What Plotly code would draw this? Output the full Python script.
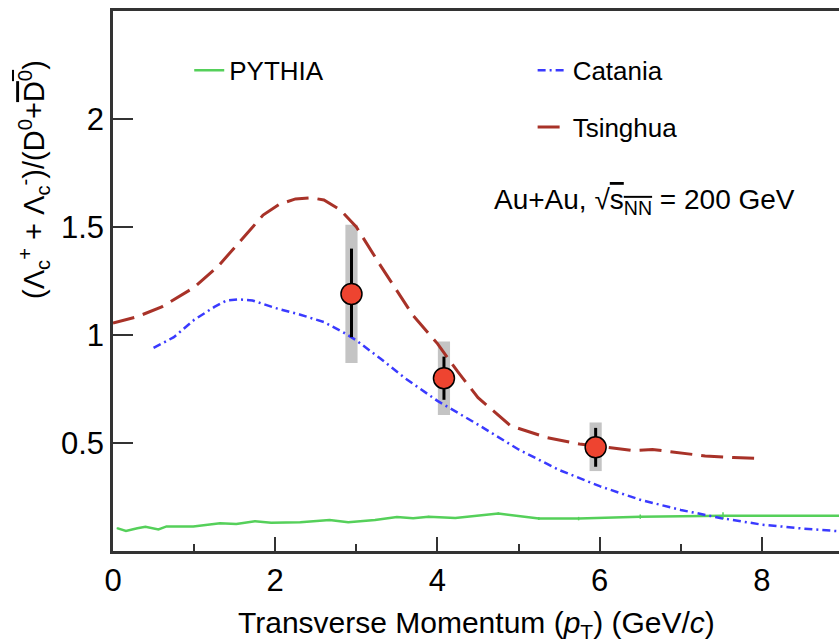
import plotly.graph_objects as go

# ---------------- data ----------------
pythia_x = [0.05, 0.16, 0.30, 0.40, 0.56, 0.66, 0.99, 1.32, 1.52, 1.75, 1.95, 2.31, 2.67,
            2.90, 3.23, 3.50, 3.70, 3.89, 4.22, 4.75, 5.25, 5.74, 6.50, 7.52, 9.00]
pythia_y = [0.106, 0.093, 0.105, 0.112, 0.100, 0.114, 0.114, 0.129, 0.125, 0.138, 0.131, 0.133, 0.144,
            0.133, 0.144, 0.157, 0.152, 0.159, 0.153, 0.174, 0.150, 0.150, 0.159, 0.163, 0.163]
pythia_err = [0.002, 0.002, 0.002, 0.002, 0.002, 0.002, 0.002, 0.003, 0.003, 0.003, 0.003, 0.003, 0.003,
              0.003, 0.003, 0.004, 0.004, 0.004, 0.004, 0.005, 0.007, 0.008, 0.010, 0.016, 0.003]

catania_x = [0.50, 0.75, 1.00, 1.25, 1.40, 1.55, 1.72, 2.00, 2.30, 2.60, 2.85, 3.00, 3.30, 3.60,
             4.00, 4.50, 5.00, 5.50, 6.00, 6.50, 7.00, 7.50, 8.00, 8.50, 9.00]
catania_y = [0.94, 0.99, 1.07, 1.13, 1.16, 1.165, 1.16, 1.125, 1.095, 1.06, 1.01, 0.975, 0.89, 0.80,
             0.695, 0.585, 0.47, 0.375, 0.30, 0.237, 0.19, 0.152, 0.122, 0.104, 0.09]

tsinghua_x = [0.00, 0.30, 0.60, 1.00, 1.30, 1.60, 1.85, 2.05, 2.25, 2.45, 2.60, 2.80, 3.00, 3.30,
              3.70, 4.00, 4.25, 4.50, 4.90, 5.35, 5.75, 6.10, 6.40, 6.65, 6.95, 7.30, 7.65, 8.00]
tsinghua_y = [1.055, 1.085, 1.13, 1.22, 1.32, 1.45, 1.555, 1.605, 1.63, 1.635, 1.625, 1.58, 1.50, 1.32,
              1.09, 0.96, 0.83, 0.71, 0.58, 0.525, 0.495, 0.48, 0.465, 0.47, 0.455, 0.44, 0.433, 0.428]

data_x = [2.94, 4.08, 5.95]
data_y = [1.19, 0.80, 0.48]
stat_lo = [0.99, 0.70, 0.39]
stat_hi = [1.40, 0.90, 0.57]
syst_lo = [0.87, 0.63, 0.37]
syst_hi = [1.51, 0.97, 0.595]

FONT = "Liberation Sans, Arial, Helvetica, sans-serif"

fig = go.Figure()

# systematic boxes
fig.add_trace(go.Bar(
    x=data_x, y=[h - l for h, l in zip(syst_hi, syst_lo)], base=syst_lo,
    width=0.15, marker=dict(color="#c4c4c4", line=dict(width=0)),
    showlegend=False, hoverinfo="skip"))

fig.add_trace(go.Scatter(
    x=pythia_x, y=pythia_y, mode="lines", name="PYTHIA",
    line=dict(color="#55d05a", width=2.5),
    error_y=dict(type="data", array=pythia_err, color="#55d05a", thickness=1.5, width=0),
    legend="legend"))

fig.add_trace(go.Scatter(
    x=catania_x, y=catania_y, mode="lines", name="Catania",
    line=dict(color="#3a3aff", width=2.5, dash="8px,4px,2px,4px"),
    legend="legend2"))

fig.add_trace(go.Scatter(
    x=tsinghua_x, y=tsinghua_y, mode="lines", name="Tsinghua",
    line=dict(color="#a83228", width=3, dash="22px,9px"),
    legend="legend3"))

# data points with stat errors
fig.add_trace(go.Scatter(
    x=data_x, y=data_y, mode="markers", showlegend=False,
    marker=dict(size=21, color="#ee4430", line=dict(color="black", width=1.5)),
    error_y=dict(type="data", symmetric=False,
                 array=[h - y for h, y in zip(stat_hi, data_y)],
                 arrayminus=[y - l for y, l in zip(data_y, stat_lo)],
                 color="black", thickness=3, width=0)))

leg_common = dict(font=dict(family=FONT, size=26, color="black"),
                  bgcolor="rgba(0,0,0,0)", borderwidth=0, yanchor="middle", xanchor="left")

fig.update_layout(
    width=839, height=643,
    margin=dict(l=113, r=0, t=11, b=92),
    paper_bgcolor="white", plot_bgcolor="white",
    barmode="overlay",
    font=dict(family=FONT, color="black"),
    legend=dict(x=0.105, y=0.89, **leg_common),
    legend2=dict(x=0.578, y=0.89, **leg_common),
    legend3=dict(x=0.578, y=0.785, **leg_common),
    xaxis=dict(range=[0, 8.95], showgrid=False, zeroline=False,
               showline=True, linecolor="#333333", linewidth=2.5, mirror=True,
               ticks="inside", ticklen=14, tickwidth=2, tickcolor="#333333",
               tickvals=[0, 2, 4, 6, 8], tickfont=dict(family=FONT, size=31, color="black"),
               minor=dict(ticks="inside", ticklen=7, tickwidth=2, tickcolor="#333333",
                          tickvals=[1, 3, 5, 7])),
    yaxis=dict(range=[0, 2.5], showgrid=False, zeroline=False,
               showline=True, linecolor="#333333", linewidth=2.5,
               ticks="inside", ticklen=20, tickwidth=2, tickcolor="#333333",
               tickvals=[0.5, 1, 1.5, 2], ticktext=["0.5", "1", "1.5", "2"],
               tickfont=dict(family=FONT, size=31, color="black")),
    annotations=[
        dict(xref="paper", yref="paper", x=(476 - 113) / 726, y=(551 - 624) / 540,
             xanchor="center", yanchor="middle", showarrow=False,
             text="Transverse Momentum (<i>p</i><sub>T</sub>) (GeV/<i>c</i>)",
             font=dict(family=FONT, size=30, color="black")),
        dict(xref="paper", yref="paper", x=(34 - 113) / 726, y=(551 - 180) / 540,
             xanchor="center", yanchor="middle", showarrow=False, textangle=-90,
             text="(Λ<sub>c</sub><sup>+</sup> + Λ<sub>c</sub><sup>-</sup>)/(D<sup>0</sup>+"
                  "<span style='text-decoration:overline'>D<sup>0</sup></span>)",
             font=dict(family=FONT, size=29, color="black")),
        dict(xref="paper", yref="paper", x=(492 - 113) / 726, y=(551 - 201) / 540,
             xanchor="left", yanchor="middle", showarrow=False,
             text="Au+Au, √<span style='text-decoration:overline'>s<sub>NN</sub></span> = 200 GeV",
             font=dict(family=FONT, size=28, color="black")),
    ],
)

fig.write_html("out.html")
